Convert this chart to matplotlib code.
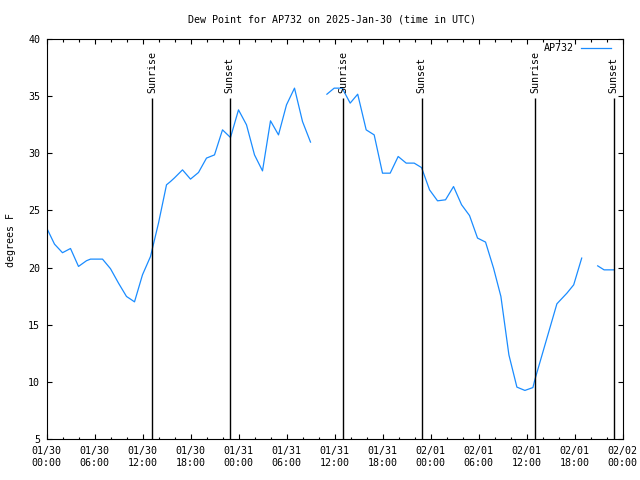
import numpy as np
import matplotlib
matplotlib.use('Agg')
import matplotlib.pyplot as plt
from matplotlib.ticker import MultipleLocator

# hours after 2025-01-30 00:00 UTC, nan = missing report (breaks the line)
hours = [0, 1, 2, 3, 4, 5, 5.5, 6, 7, 8, 9, 10, 10.5, 11, 12, 13, 14, 15, 15.5,
         16, 17, 18, 19, 20, 21, 22, 23, 24, 25, 26, 27, 28, 29, 30, 31, 32, 33,
         34,
         35.05, 35.96, 36.96, 37.96, 38.9, 39.96, 40.96, 42.0, 42.96, 43.96,
         44.96, 45.96, 46.88, 47.88, 48.88, 49.88, 50.88, 51.88, 52.88, 53.88,
         54.88, 55.88, 56.8, 57.8, 58.8, 59.8, 60.8, 61.05, 63.8, 65.05, 65.9,
         66.9,
         68,
         68.9, 69.7, 70.9]
dewpoint = [23.5, 22.05, 21.3, 21.67, 20.1, 20.6, 20.74, 20.74, 20.74, 19.9,
            18.64, 17.47, 17.24, 17.0, 19.37, 20.97, 23.89, 27.24, 27.53,
            27.85, 28.55, 27.74, 28.32, 29.58, 29.86, 32.05, 31.38, 33.8, 32.49,
            29.86, 28.46, 32.84, 31.61, 34.24, 35.7, 32.78, 30.98,
            np.nan,
            35.17, 35.7, 35.7, 34.39, 35.17, 32.05, 31.61, 28.26, 28.26, 29.72,
            29.14, 29.14, 28.75, 26.8, 25.84, 25.93, 27.09, 25.5, 24.55, 22.58,
            22.23, 19.95, 17.47, 12.36, 9.54, 9.25, 9.5, 10.2, 16.83, 17.76,
            18.49, 20.83,
            np.nan,
            20.15, 19.8, 19.8]

sunrise_hours = [13.2, 37.1, 61.1]
sunset_hours = [22.9, 46.9, 70.9]

tick_hours = list(range(0, 73, 6))
tick_labels = ['01/30\n00:00', '01/30\n06:00', '01/30\n12:00', '01/30\n18:00',
               '01/31\n00:00', '01/31\n06:00', '01/31\n12:00', '01/31\n18:00',
               '02/01\n00:00', '02/01\n06:00', '02/01\n12:00', '02/01\n18:00',
               '02/02\n00:00']

plt.rcParams['font.family'] = ['DejaVu Sans Mono']
fs = 7.2

fig = plt.figure(figsize=(6.4, 4.8), dpi=100)
ax = fig.add_axes([46.5 / 640, 1 - 439 / 480, 576 / 640, 400 / 480])

ax.plot(hours, dewpoint, color='#1a8cff', lw=0.9, label='AP732')

for h in sunrise_hours:
    ax.vlines(h, 5, 34.8, color='black', lw=1.0)
    ax.text(h, 35.3, 'Sunrise', rotation=90, ha='center', va='bottom', fontsize=fs)
for h in sunset_hours:
    ax.vlines(h, 5, 34.8, color='black', lw=1.0)
    ax.text(h, 35.3, 'Sunset', rotation=90, ha='center', va='bottom', fontsize=fs)

ax.set_xlim(0, 72)
ax.set_ylim(5, 40)
ax.set_xticks(tick_hours)
ax.set_xticklabels(tick_labels, fontsize=fs)
ax.xaxis.set_minor_locator(MultipleLocator(2))
ax.set_yticks(range(5, 41, 5))
ax.tick_params(labelsize=fs)
ax.tick_params(which='both', direction='in', top=True, right=True, width=0.8)
ax.tick_params(which='major', length=3.3)
ax.tick_params(which='minor', length=1.8)
ax.tick_params(axis='x', pad=5)
ax.tick_params(axis='y', pad=4.5)
for s in ax.spines.values():
    s.set_linewidth(0.8)

ax.legend(loc='upper right', bbox_to_anchor=(611 / 640, 1 - 43 / 480),
          bbox_transform=fig.transFigure, frameon=False, markerfirst=False,
          fontsize=fs, borderpad=0, borderaxespad=0, handlelength=3.0,
          handletextpad=0.7)

fig.text(332 / 640, 1 - 19 / 480, 'Dew Point for AP732 on 2025-Jan-30 (time in UTC)',
         ha='center', va='center', fontsize=fs)
fig.text(11 / 640, 0.5, 'degrees F', rotation=90, ha='center', va='center', fontsize=fs)

fig.savefig('out.png', dpi=100)
